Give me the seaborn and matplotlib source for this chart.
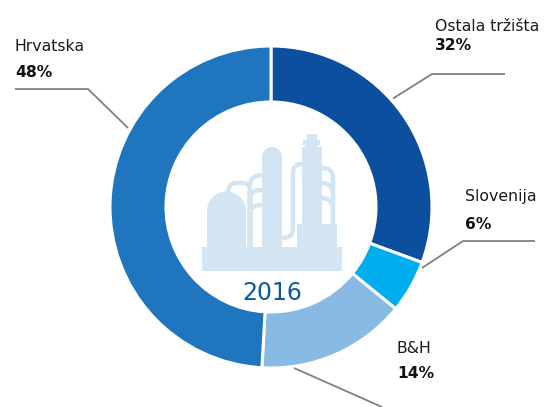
import seaborn as sns
import matplotlib.pyplot as plt
from matplotlib.patches import Rectangle, Wedge, PathPatch
from matplotlib.path import Path

# Wedge shares as measured off the ring, labels as printed
categories = ['Ostala tržišta', 'Slovenija', 'B&H', 'Hrvatska']
shares = [30.6, 5.3, 15.0, 49.1]
pct_labels = ['32%', '6%', '14%', '48%']
colors = ['#0B4F9E', '#00AEEF', '#88BAE4', '#1F75BE']
year = '2016'

H = 407
ICON = '#D3E4F2'
LEADER = '#808080'

sns.set_theme(style='white')
plt.rcParams['font.family'] = ['DejaVu Sans']

fig = plt.figure(figsize=(5.47, 4.07), dpi=100)
ax = fig.add_axes([0, 0, 1, 1])


def flip(pts):
    # picture coordinates have y going down
    return [(x, H - y) for x, y in pts]


ax.pie(shares, colors=sns.color_palette(colors), startangle=90, counterclock=False,
       center=(271, H - 207), radius=161, frame=True,
       wedgeprops={'width': 56, 'edgecolor': 'white', 'linewidth': 2.2})
ax.set_xlim(0, 547)
ax.set_ylim(0, H)
ax.set_aspect('auto')
ax.axis('off')

# Leader lines
leaders = [
    [(393, 98.5), (432, 74), (505, 74)],
    [(422, 268), (463, 241), (535, 241)],
    [(294, 368), (382, 407)],
    [(128, 128), (88, 89), (15, 89)],
]
for pts in leaders:
    xs, ys = zip(*flip(pts))
    ax.plot(xs, ys, color=LEADER, lw=1.3, solid_capstyle='butt')

# Labels: x, name baseline, percent baseline
label_pos = [(435, 31, 50), (465, 201, 229), (397, 353, 378), (15, 51, 77)]
for name, pct, (x, y1, y2) in zip(categories, pct_labels, label_pos):
    ax.text(x, H - y1, name, fontsize=11.3, color='#1a1a1a', va='baseline', ha='left')
    ax.text(x, H - y2, pct, fontsize=11.2, fontweight='bold', color='#111111', va='baseline', ha='left')

ax.text(272.5, H - 300, year, fontsize=17, color='#0B5A9E', ha='center', va='baseline')


# Refinery icon
def block(x0, y0, x1, y1):
    ax.add_patch(Rectangle((x0, H - y1), x1 - x0, y1 - y0, fc=ICON, ec='none'))


def pipe(pts, lw=3.2):
    xs, ys = zip(*flip(pts))
    ax.plot(xs, ys, color=ICON, lw=lw, solid_joinstyle='round', solid_capstyle='butt')


def curve(pts, lw=3.2):
    codes = [Path.MOVETO] + [Path.CURVE3] * (len(pts) - 1)
    ax.add_patch(PathPatch(Path(flip(pts), codes), fc='none', ec=ICON, lw=lw, capstyle='butt'))


block(202, 247, 342, 271)
# tank
block(207, 211, 246, 248)
ax.add_patch(Wedge((226.5, H - 211), 19.5, 0, 180, fc=ICON, ec='none'))
# column
block(262, 157, 282, 248)
ax.add_patch(Wedge((272, H - 157), 10, 0, 180, fc=ICON, ec='none'))
# tower
block(302, 147, 322, 226)
block(297, 224, 337, 248)
block(307, 134, 317, 141)
block(303, 140, 320, 145)
block(305, 144, 318, 148)

# pipes from the tank to the column
curve([(228, 194), (228, 183), (236, 183)])
pipe([(236, 183), (243, 183)])
curve([(243, 183), (250, 183), (250, 191)])
pipe([(250, 191), (250, 247)], lw=4.0)
curve([(250, 186), (250, 175), (262, 175)])
curve([(250, 197), (251, 190), (262, 190)])
curve([(250, 212), (251, 205), (262, 205)])

# pipes either side of the tower
curve([(302, 164), (293, 164), (293, 173)])
pipe([(293, 173), (293, 229)])
curve([(293, 229), (293, 238), (282, 238)])
curve([(322, 168), (333, 168), (333, 178)])
pipe([(333, 178), (333, 225)])
curve([(322, 183), (331, 183), (333, 192)])
curve([(322, 198), (331, 198), (333, 207)])

plt.savefig('out.png', dpi=100)
